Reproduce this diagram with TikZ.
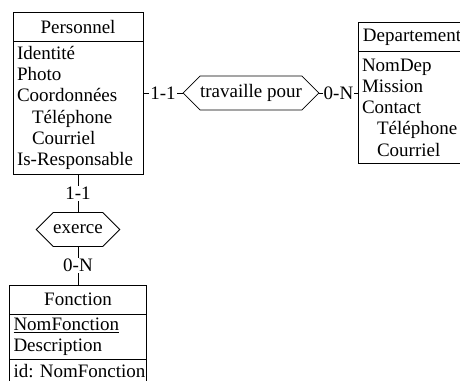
\documentclass[tikz,border=0pt]{standalone}
\usepackage{fontspec}
\setmainfont{Liberation Serif}
\usetikzlibrary{positioning,shapes.symbols}

\newcommand\subattr[1]{\hspace*{15pt}#1}

\tikzset{
    enttitle/.style={draw, line width=0.8pt, outer sep=0pt, minimum height=29pt, inner sep=0pt},
    entbody/.style={draw, line width=0.8pt, outer sep=0pt, align=left, inner xsep=4pt, inner ysep=4pt},
    relation/.style={draw, line width=0.8pt, outer sep=0pt, signal, signal to=east and west, minimum height=34pt, inner xsep=0pt, inner ysep=0pt},
    card/.style={fill=white, inner sep=1pt},
    link/.style={line width=0.8pt}
}

\begin{document}
        \begin{tikzpicture}[x=1pt, y=-1pt, font=\fontsize{19}{21.2}\selectfont\frenchspacing]
            \useasboundingbox (0,0) rectangle (460,380);
            \clip (0,0) rectangle (460,380);

            \node[enttitle, minimum width=130pt] (pers) at (78,27) {Personnel};
            \node[entbody, text width=122pt, minimum height=133pt, below=0pt of pers] (persattr)
                {Identité\\Photo\\Coordonnées\\\subattr{Téléphone}\\\subattr{Courriel}\\Is-Responsable};

            \node[enttitle, minimum width=108pt] (dep) at (412,37) {Departement};
            \node[entbody, text width=100pt, minimum height=112pt, below=0pt of dep] (depattr)
                {NomDep\\Mission\\Contact\\\subattr{Téléphone}\\\subattr{Courriel}};

            \node[enttitle, minimum width=137pt] (fon) at (78,299.5) {Fonction};
            \node[entbody, text width=129pt, minimum height=45pt, below=0pt of fon] (fonattr)
                {\underline{NomFonction}\\Description};
            \node[entbody, text width=129pt, below=0pt of fonattr] (fonid) {\mbox{id: NomFonction}};

            \node[relation] (trav) at (251,93) {travaille pour};
            \node[relation] (exerce) at (78,229.5) {exerce};

            \draw[link] (persattr.east |- trav.west) -- node[card] {1-1} (trav.west);
            \draw[link] (trav.east) -- node[card] {0-N} (trav.east -| depattr.west);
            \draw[link] (persattr.south) -- node[card] {1-1} (exerce.north);
            \draw[link] (exerce.south) -- node[card] {0-N} (fon.north);
        \end{tikzpicture}
\end{document}
